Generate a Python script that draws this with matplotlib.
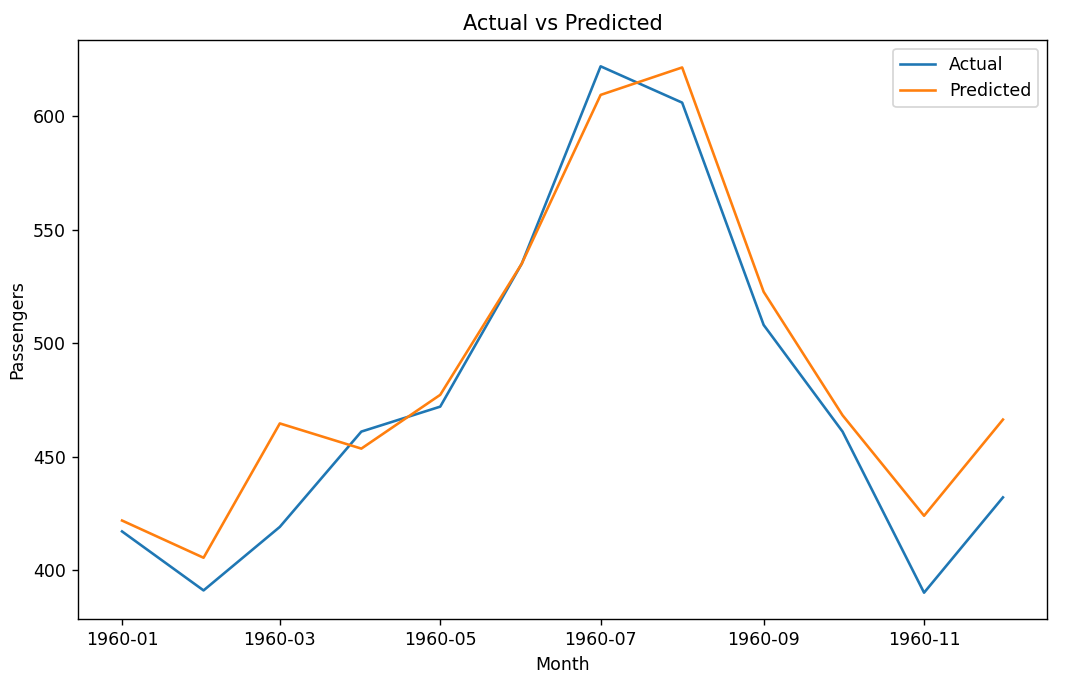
import matplotlib
matplotlib.use("Agg")
import matplotlib.pyplot as plt
import matplotlib.dates as mdates
import pandas as pd

months = pd.date_range("1960-01-01", periods=12, freq="MS")
actual = [417, 391, 419, 461, 472, 535, 622, 606, 508, 461, 390, 432]
predicted = [421.8, 405.4, 464.6, 453.5, 477.2, 535.0, 609.4, 621.5, 522.6, 468.2, 423.9, 466.3]

dpi = 125
fig = plt.figure(figsize=(1076/dpi, 681/dpi), dpi=dpi)
ax = fig.add_axes([78/1076, 1 - 619/681, (1047-78)/1076, (619-40)/681])
ax.plot(months, actual, label="Actual")
ax.plot(months, predicted, label="Predicted")
ax.xaxis.set_major_locator(mdates.MonthLocator(bymonth=[1, 3, 5, 7, 9, 11]))
ax.xaxis.set_major_formatter(mdates.DateFormatter("%Y-%m"))
ax.set_title("Actual vs Predicted")
ax.set_xlabel("Month")
ax.set_ylabel("Passengers")
ax.legend(loc="upper right")
fig.savefig("out.png", dpi=dpi)
